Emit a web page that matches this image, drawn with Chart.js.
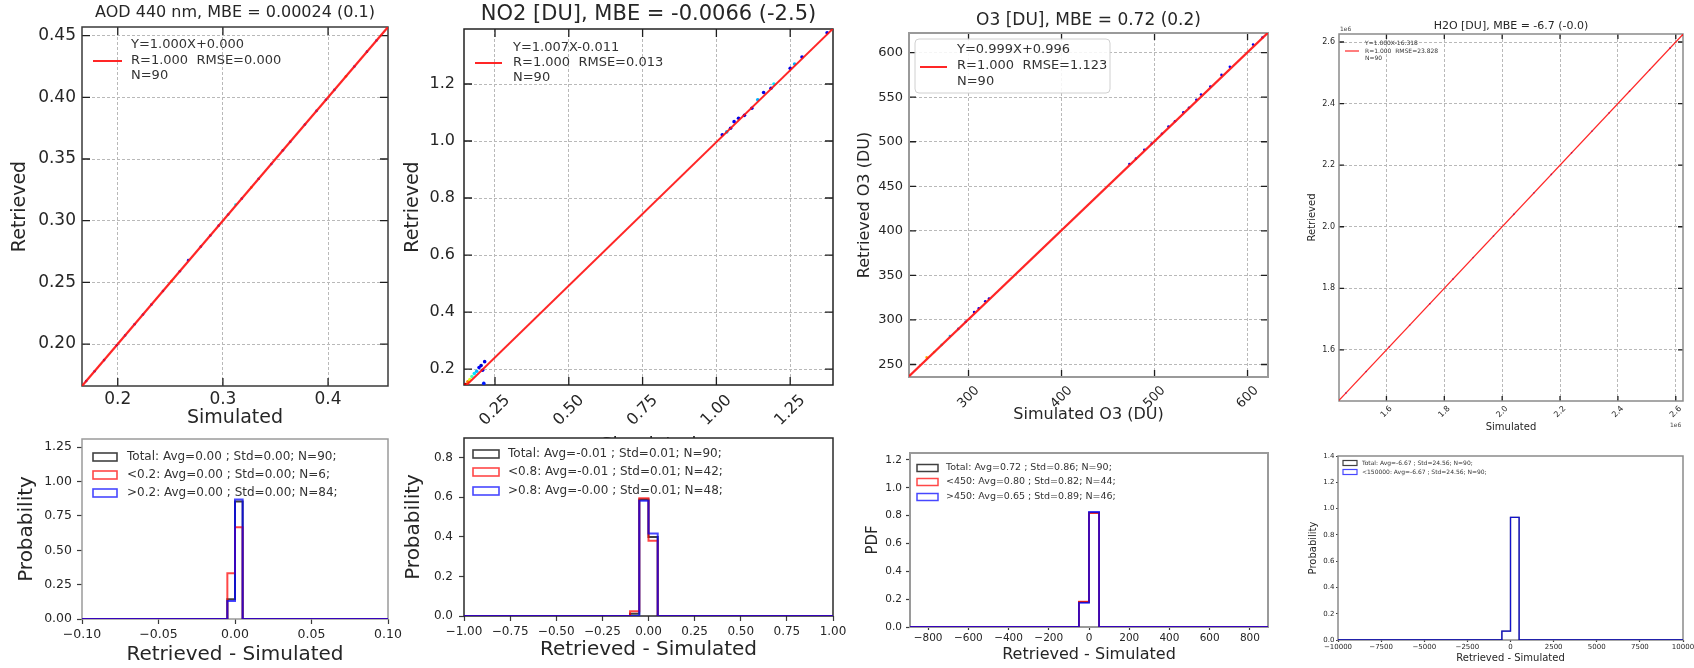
<!DOCTYPE html>
<html>
<head>
<meta charset="utf-8">
<title>Retrieved vs Simulated</title>
<script src="https://cdn.jsdelivr.net/npm/chart.js@4/dist/chart.umd.min.js"></script>
<style>
  html, body { margin: 0; padding: 0; background: #ffffff; }
  body { position: relative; width: 1694px; height: 668px; overflow: hidden; }
  canvas { position: absolute; }
</style>
</head>
<body>
<script>
/* ======================= DATA ======================= */
/* ---- AOD 440 nm ---- */
const aodTitle = 'AOD 440 nm, MBE = 0.00024 (0.1)';
const aodSim = [0.170,0.178,0.187,0.199,0.207,0.216,0.224,0.232,0.243,0.251,0.259,0.267,0.279,0.288,0.296,0.305,0.312,0.318,0.327,0.334,0.346,0.357,0.364,0.378,0.389,0.398,0.406,0.417,0.425,0.437,0.446];
const aodRet = [0.170,0.178,0.187,0.199,0.207,0.216,0.224,0.232,0.243,0.251,0.259,0.268,0.279,0.288,0.296,0.305,0.313,0.318,0.327,0.334,0.346,0.357,0.364,0.378,0.389,0.398,0.406,0.417,0.425,0.437,0.446];
const aodDensity = [0.1,0.15,0.1,0.1,0.2,0.1,0.15,0.1,0.1,0.7,0.1,0.15,0.1,0.1,0.1,0.2,0.35,0.1,0.72,0.1,0.15,0.1,0.1,0.1,0.15,0.1,0.2,0.75,0.1,0.1,0.15];
const aodFitX = [0.166, 0.457];
const aodFitY = [0.166, 0.457];
const aodFitLegend = ['Y=1.000X+0.000', 'R=1.000  RMSE=0.000', 'N=90'];
const aodTicksX = [0.2, 0.3, 0.4];
const aodTicksY = [0.20, 0.25, 0.30, 0.35, 0.40, 0.45];
const aodHistEdges = [-0.10, -0.005, 0.000, 0.005, 0.10];
const aodHistTotal = [0, 0.144, 0.856, 0];
const aodHistLow   = [0, 0.333, 0.667, 0];
const aodHistHigh  = [0, 0.131, 0.869, 0];
const aodHistLegend = ['Total: Avg=0.00 ; Std=0.00; N=90;', '<0.2: Avg=0.00 ; Std=0.00; N=6;', '>0.2: Avg=0.00 ; Std=0.00; N=84;'];
const aodHistTicksX = [-0.10, -0.05, 0.00, 0.05, 0.10];
const aodHistTicksY = [0.00, 0.25, 0.50, 0.75, 1.00, 1.25];

/* ---- NO2 ---- */
const no2Title = 'NO2 [DU], MBE = -0.0066 (-2.5)';
const no2Sim = [0.150,0.158,0.165,0.172,0.180,0.188,0.196,0.203,0.208,0.212,0.215,1.020,1.035,1.048,1.060,1.075,1.095,1.120,1.140,1.160,1.185,1.195,1.250,1.265,1.290,1.375];
const no2Ret = [0.146,0.155,0.163,0.174,0.184,0.192,0.205,0.212,0.196,0.150,0.226,1.022,1.032,1.045,1.068,1.080,1.090,1.115,1.145,1.170,1.185,1.200,1.255,1.270,1.295,1.380];
const no2Density = [0.95,0.75,0.6,0.45,0.35,0.3,0.12,0.08,0.1,0.15,0.1,0.1,0.3,0.1,0.12,0.1,0.1,0.1,0.3,0.1,0.1,0.35,0.1,0.3,0.1,0.1];
const no2FitX = [0.145, 1.395];
const no2FitY = [0.135, 1.394];
const no2FitLegend = ['Y=1.007X-0.011', 'R=1.000  RMSE=0.013', 'N=90'];
const no2TicksX = [0.25, 0.50, 0.75, 1.00, 1.25];
const no2TicksY = [0.2, 0.4, 0.6, 0.8, 1.0, 1.2];
const no2HistEdges = [-1.00, -0.10, -0.05, 0.00, 0.05, 1.00];
const no2HistTotal = [0, 0.011, 0.589, 0.400, 0];
const no2HistLow   = [0, 0.024, 0.595, 0.381, 0];
const no2HistHigh  = [0, 0.000, 0.583, 0.417, 0];
const no2HistLegend = ['Total: Avg=-0.01 ; Std=0.01; N=90;', '<0.8: Avg=-0.01 ; Std=0.01; N=42;', '>0.8: Avg=-0.00 ; Std=0.01; N=48;'];
const no2HistTicksX = [-1.00, -0.75, -0.50, -0.25, 0.00, 0.25, 0.50, 0.75, 1.00];
const no2HistTicksY = [0.0, 0.2, 0.4, 0.6, 0.8];

/* ---- O3 ---- */
const o3Title = 'O3 [DU], MBE = 0.72 (0.2)';
const o3Sim = [255,263,271,280,289,297,306,311,318,322,473,480,489,497,508,515,522,531,537,545,550,560,572,581,606,616];
const o3Ret = [258,264,272,282,290,298,309,313,321,324,475,481,491,498,509,517,523,533,538,547,553,562,575,584,609,617];
const o3Density = [0.7,0.55,0.4,0.3,0.2,0.15,0.1,0.12,0.1,0.1,0.1,0.12,0.1,0.15,0.1,0.1,0.12,0.1,0.1,0.1,0.12,0.1,0.1,0.12,0.1,0.1];
const o3FitX = [236, 622];
const o3FitY = [236.8, 622.4];
const o3FitLegend = ['Y=0.999X+0.996', 'R=1.000  RMSE=1.123', 'N=90'];
const o3TicksX = [300, 400, 500, 600];
const o3TicksY = [250, 300, 350, 400, 450, 500, 550, 600];
const o3HistEdges = [-900, -50, 0, 50, 900];
const o3HistTotal = [0, 0.178, 0.822, 0];
const o3HistLow   = [0, 0.182, 0.818, 0];
const o3HistHigh  = [0, 0.174, 0.826, 0];
const o3HistLegend = ['Total: Avg=0.72 ; Std=0.86; N=90;', '<450: Avg=0.80 ; Std=0.82; N=44;', '>450: Avg=0.65 ; Std=0.89; N=46;'];
const o3HistTicksX = [-800, -600, -400, -200, 0, 200, 400, 600, 800];
const o3HistTicksY = [0.0, 0.2, 0.4, 0.6, 0.8, 1.0, 1.2];

/* ---- H2O (values in units of 1e6) ---- */
const h2oTitle = 'H2O [DU], MBE = -6.7 (-0.0)';
const h2oSim = [1.46,1.53,1.61,1.68,1.75,1.83,1.90,1.97,2.04,2.11,2.17,2.24,2.31,2.37,2.44,2.51,2.58];
const h2oRet = [1.46,1.53,1.61,1.68,1.75,1.83,1.90,1.97,2.04,2.11,2.17,2.24,2.31,2.37,2.44,2.51,2.58];
const h2oDensity = [0.1,0.15,0.1,0.2,0.1,0.1,0.15,0.1,0.1,0.2,0.1,0.1,0.15,0.1,0.1,0.2,0.1];
const h2oFitX = [1.436, 2.625];
const h2oFitY = [1.436, 2.625];
const h2oFitLegend = ['Y=1.000X-16.318', 'R=1.000  RMSE=23.828', 'N=90'];
const h2oTicks = [1.6, 1.8, 2.0, 2.2, 2.4, 2.6];
const h2oOffsetText = '1e6';
const h2oHistEdges = [-10000, -500, 0, 500, 10000];
const h2oHistTotal = [0, 0.067, 0.933, 0];
const h2oHistLow   = [0, 0.067, 0.933, 0];
const h2oHistLegend = ['Total: Avg=-6.67 ; Std=24.56; N=90;', '<150000: Avg=-6.67 ; Std=24.56; N=90;'];
const h2oHistTicksX = [-10000, -7500, -5000, -2500, 0, 2500, 5000, 7500, 10000];
const h2oHistTicksY = [0.0, 0.2, 0.4, 0.6, 0.8, 1.0, 1.2, 1.4];

/* ======================= HELPERS ======================= */
const FAMILY = "'DejaVu Sans', 'Liberation Sans', sans-serif";
const TXT = '#262626';
const RED = 'rgba(255,0,0,0.72)';
const BLUE = 'rgba(0,0,255,0.72)';
const BLACK = 'rgba(0,0,0,0.75)';
const FITRED = 'rgba(255,20,20,0.92)';
const SPECS = new Map();

const fmt = (v, d) => (v < -1e-12 ? '\u2212' : '') + Math.abs(v).toFixed(d);
const pts = (xs, ys) => xs.map((x, i) => ({x: x, y: ys[i]}));
const stepPts = (edges, h) => {
  const p = h.map((y, i) => ({x: edges[i], y: y}));
  p.push({x: edges[edges.length - 1], y: 0});
  return p;
};
const jet = d => {
  const c = v => Math.round(255 * Math.max(0, Math.min(1, v)));
  return 'rgb(' + c(1.5 - Math.abs(4 * d - 3)) + ',' + c(1.5 - Math.abs(4 * d - 2)) + ',' + c(1.5 - Math.abs(4 * d - 1)) + ')';
};

function scatterSets(sim, ret, dens, fx, fy, st) {
  return [
    {type: 'line', data: pts(fx, fy), borderColor: FITRED, borderWidth: st.lw, pointRadius: 0, fill: false, order: 0},
    {type: 'scatter', data: pts(sim, ret), pointRadius: st.r, backgroundColor: dens.map(jet), pointBackgroundColor: dens.map(jet), borderWidth: 0, pointBorderWidth: 0, order: 1}
  ];
}
function histSets(edges, total, low, high, lw) {
  const sets = [];
  if (high) sets.push({type: 'line', data: stepPts(edges, high), borderColor: BLUE, borderWidth: lw, pointRadius: 0, stepped: true, fill: false, order: 0});
  if (low) sets.push({type: 'line', data: stepPts(edges, low), borderColor: RED, borderWidth: lw, pointRadius: 0, stepped: true, fill: false, order: 1});
  sets.push({type: 'line', data: stepPts(edges, total), borderColor: BLACK, borderWidth: lw, pointRadius: 0, stepped: true, fill: false, order: 2});
  return sets;
}

const mplPlugin = {
  id: 'mplStyle',
  beforeDraw(chart) {
    const s = SPECS.get(chart.canvas);
    if (!s || !s.bg) return;
    const a = chart.chartArea, ctx = chart.ctx;
    ctx.save();
    ctx.fillStyle = '#ffffff';
    ctx.fillRect(a.left, a.top, a.right - a.left, a.bottom - a.top);
    ctx.restore();
  },
  beforeDatasetsDraw(chart) {
    const s = SPECS.get(chart.canvas);
    if (!s) return;
    const a = chart.chartArea, ctx = chart.ctx;
    ctx.save();
    if (s.inTick) {
      const xs = chart.scales.x, ys = chart.scales.y;
      ctx.strokeStyle = '#1e1e1e';
      ctx.lineWidth = 1.3;
      ctx.beginPath();
      xs.ticks.forEach(t => {
        const p = xs.getPixelForValue(t.value);
        ctx.moveTo(p, a.bottom); ctx.lineTo(p, a.bottom - s.inTick);
        ctx.moveTo(p, a.top); ctx.lineTo(p, a.top + s.inTick);
      });
      ys.ticks.forEach(t => {
        const p = ys.getPixelForValue(t.value);
        ctx.moveTo(a.left, p); ctx.lineTo(a.left + s.inTick, p);
        ctx.moveTo(a.right, p); ctx.lineTo(a.right - s.inTick, p);
      });
      ctx.stroke();
    }
    ctx.strokeStyle = s.frame[0];
    ctx.lineWidth = s.frame[1];
    ctx.strokeRect(a.left, a.top, a.right - a.left, a.bottom - a.top);
    ctx.restore();
  },
  afterDraw(chart) {
    const s = SPECS.get(chart.canvas);
    if (!s) return;
    const ctx = chart.ctx, ox = s.box[0], oy = s.box[1];
    ctx.save();
    const lg = s.legend;
    if (lg) {
      if (lg.box) {
        const b = lg.box, x = b[0] - ox, y = b[1] - oy, w = b[2] - b[0], h = b[3] - b[1], r = 4;
        ctx.beginPath();
        ctx.moveTo(x + r, y); ctx.lineTo(x + w - r, y); ctx.quadraticCurveTo(x + w, y, x + w, y + r);
        ctx.lineTo(x + w, y + h - r); ctx.quadraticCurveTo(x + w, y + h, x + w - r, y + h);
        ctx.lineTo(x + r, y + h); ctx.quadraticCurveTo(x, y + h, x, y + h - r);
        ctx.lineTo(x, y + r); ctx.quadraticCurveTo(x, y, x + r, y);
        ctx.closePath();
        ctx.fillStyle = 'rgba(255,255,255,0.85)';
        ctx.fill();
        ctx.strokeStyle = '#d0d0d0';
        ctx.lineWidth = 1;
        ctx.stroke();
      }
      ctx.font = lg.size + 'px ' + FAMILY;
      ctx.fillStyle = '#333333';
      ctx.textBaseline = 'middle';
      ctx.textAlign = 'left';
      lg.texts.forEach((t, i) => ctx.fillText(t, lg.textX - ox, lg.rowsY[i] - oy));
      if (lg.line) {
        ctx.strokeStyle = lg.line.color;
        ctx.lineWidth = lg.line.width;
        ctx.beginPath();
        ctx.moveTo(lg.line.x1 - ox, lg.line.y - oy);
        ctx.lineTo(lg.line.x2 - ox, lg.line.y - oy);
        ctx.stroke();
      }
      if (lg.rects) {
        ctx.lineWidth = lg.rects.lw;
        lg.rects.colors.forEach((c, i) => {
          ctx.strokeStyle = c;
          ctx.strokeRect(lg.rects.x - ox, lg.rowsY[i] - oy - lg.rects.h / 2, lg.rects.w, lg.rects.h);
        });
      }
    }
    (s.notes || []).forEach(n => {
      ctx.font = n.size + 'px ' + FAMILY;
      ctx.fillStyle = '#444444';
      ctx.textBaseline = 'middle';
      ctx.textAlign = 'left';
      ctx.fillText(n.text, n.x - ox, n.y - oy);
    });
    ctx.restore();
  }
};
Chart.register(mplPlugin);

function panel(s) {
  const CL = s.box[0], CT = s.box[1], CR = s.box[2], CB = s.box[3];
  const L = s.plot[0], T = s.plot[1], R = s.plot[2], B = s.plot[3];
  const W = CR - CL, H = CB - CT;
  const cv = document.createElement('canvas');
  cv.width = W; cv.height = H;
  cv.style.left = CL + 'px'; cv.style.top = CT + 'px';
  cv.style.width = W + 'px'; cv.style.height = H + 'px';
  document.body.appendChild(cv);
  SPECS.set(cv, s);

  const scaleCfg = (a, horiz) => ({
    type: 'linear',
    position: horiz ? 'bottom' : 'left',
    min: a.min, max: a.max,
    afterBuildTicks: sc => { sc.ticks = a.ticks.map(v => ({value: v})); },
    afterFit: sc => {
      if (horiz) { sc.height = CB - B; sc.paddingLeft = 0; sc.paddingRight = 0; }
      else { sc.width = L - CL; sc.paddingTop = 0; sc.paddingBottom = 0; }
    },
    ticks: {
      autoSkip: false,
      font: {family: FAMILY, size: a.size},
      color: TXT,
      padding: a.pad,
      minRotation: a.rot || 0,
      maxRotation: a.rot || 0,
      labelOffset: a.lo || 0,
      callback: v => fmt(v, a.dec)
    },
    grid: {
      display: true,
      drawOnChartArea: !!s.grid,
      color: '#b9b9b9',
      lineWidth: 1,
      drawTicks: !!a.tl,
      tickLength: a.tl || 0,
      tickColor: '#3a3a3a',
      tickWidth: 1.2,
      borderDash: [3, 2]
    },
    border: {display: false, dash: [3, 2]},
    title: {
      display: true,
      text: a.title.text,
      color: TXT,
      font: {family: FAMILY, size: a.title.size},
      padding: horiz ? {top: 0, bottom: CB - a.title.c - a.title.size * 0.6}
                     : {top: a.title.c - CL - a.title.size * 0.6, bottom: 0}
    }
  });

  new Chart(cv, {
    type: 'scatter',
    data: {datasets: s.datasets},
    options: {
      responsive: false,
      animation: false,
      devicePixelRatio: 1,
      layout: {padding: {top: s.title ? 0 : T - CT, right: CR - R, left: 0, bottom: 0}},
      plugins: {
        legend: {display: false},
        tooltip: {enabled: false},
        title: s.title ? {
          display: true,
          text: s.title.text,
          color: TXT,
          fullSize: false,
          font: {family: FAMILY, size: s.title.size, weight: 'normal'},
          padding: {top: s.title.c - CT - s.title.size * 0.6, bottom: T - s.title.c - s.title.size * 0.6}
        } : {display: false}
      },
      scales: {x: scaleCfg(s.x, true), y: scaleCfg(s.y, false)}
    }
  });
}

/* ======================= PANELS ======================= */
// Top row: scatter plots
panel({
  box: [0, 0, 410, 440], plot: [82, 27, 388, 386], grid: true, inTick: 8, frame: ['#3a3a3a', 1.5],
  title: {text: aodTitle, size: 16, c: 13},
  x: {min: 0.166, max: 0.457, ticks: aodTicksX, dec: 1, size: 17, pad: 3, title: {text: 'Simulated', size: 19, c: 418}},
  y: {min: 0.166, max: 0.457, ticks: aodTicksY, dec: 2, size: 17, pad: 6, title: {text: 'Retrieved', size: 19, c: 20}},
  datasets: scatterSets(aodSim, aodRet, aodDensity, aodFitX, aodFitY, {lw: 2.2, r: 1.3}),
  legend: {size: 13, textX: 131, rowsY: [45, 61, 76], texts: aodFitLegend, line: {x1: 93, x2: 122, y: 61, color: FITRED, width: 2}}
});
panel({
  box: [400, 0, 850, 470], plot: [464, 29, 833, 385], grid: true, inTick: 8, frame: ['#222222', 1.5],
  title: {text: no2Title, size: 21, c: 15},
  x: {min: 0.145, max: 1.395, ticks: no2TicksX, dec: 2, size: 16, pad: 6, rot: 45, lo: 12.6, title: {text: 'Simulated', size: 19, c: 446}},
  y: {min: 0.144, max: 1.393, ticks: no2TicksY, dec: 1, size: 16, pad: 9, title: {text: 'Retrieved', size: 19, c: 413}},
  datasets: scatterSets(no2Sim, no2Ret, no2Density, no2FitX, no2FitY, {lw: 2, r: 1.8}),
  legend: {size: 13, textX: 513, rowsY: [48, 63, 78], texts: no2FitLegend, line: {x1: 475, x2: 502, y: 63, color: FITRED, width: 2}}
});
panel({
  box: [850, 0, 1285, 440], plot: [909, 33, 1268, 377], grid: true, inTick: 7, frame: ['#9a9a9a', 2],
  title: {text: o3Title, size: 17, c: 21},
  x: {min: 236, max: 622, ticks: o3TicksX, dec: 0, size: 13, pad: 6, rot: 45, lo: 8.8, title: {text: 'Simulated O3 (DU)', size: 16, c: 415}},
  y: {min: 236, max: 622, ticks: o3TicksY, dec: 0, size: 13, pad: 6, title: {text: 'Retrieved O3 (DU)', size: 16, c: 865}},
  datasets: scatterSets(o3Sim, o3Ret, o3Density, o3FitX, o3FitY, {lw: 2.2, r: 1.3}),
  legend: {size: 13, textX: 957, rowsY: [50, 66, 82], texts: o3FitLegend, line: {x1: 920, x2: 947, y: 67, color: FITRED, width: 2}, box: [915, 39, 1110, 93]}
});
panel({
  box: [1290, 0, 1694, 440], plot: [1339, 34, 1683, 401], grid: true, inTick: 5, frame: ['#8a8a8a', 1.5],
  title: {text: h2oTitle, size: 11, c: 26},
  x: {min: 1.436, max: 2.625, ticks: h2oTicks, dec: 1, size: 8, pad: 3, rot: 45, lo: 4.5, title: {text: 'Simulated', size: 10, c: 427}},
  y: {min: 1.434, max: 2.626, ticks: h2oTicks, dec: 1, size: 8, pad: 4, title: {text: 'Retrieved', size: 10, c: 1312}},
  datasets: scatterSets(h2oSim, h2oRet, h2oDensity, h2oFitX, h2oFitY, {lw: 1.3, r: 0.8}),
  legend: {size: 6, textX: 1365, rowsY: [43, 51, 58], texts: h2oFitLegend, line: {x1: 1345, x2: 1359, y: 51, color: FITRED, width: 1.2}},
  notes: [{text: h2oOffsetText, x: 1340, y: 29, size: 6}, {text: h2oOffsetText, x: 1670, y: 425, size: 6}]
});

// Bottom row: difference histograms
panel({
  box: [0, 425, 410, 668], plot: [82, 439, 388, 619], bg: true, frame: ['#9a9a9a', 1.5],
  x: {min: -0.1, max: 0.1, ticks: aodHistTicksX, dec: 2, size: 12.5, pad: 3.5, tl: 5, title: {text: 'Retrieved - Simulated', size: 20, c: 655}},
  y: {min: 0, max: 1.31, ticks: aodHistTicksY, dec: 2, size: 12.5, pad: 5, tl: 5, title: {text: 'Probability', size: 20, c: 27}},
  datasets: histSets(aodHistEdges, aodHistTotal, aodHistLow, aodHistHigh, 2),
  legend: {size: 12, textX: 127, rowsY: [457, 475, 493], texts: aodHistLegend, rects: {x: 93, w: 24, h: 8, lw: 1.6, colors: [BLACK, RED, BLUE]}}
});
panel({
  box: [400, 425, 850, 668], plot: [464, 438, 833, 616], bg: true, frame: ['#2a2a2a', 1.5],
  x: {min: -1, max: 1, ticks: no2HistTicksX, dec: 2, size: 12, pad: 4, tl: 5, title: {text: 'Retrieved - Simulated', size: 20, c: 650}},
  y: {min: 0, max: 0.9, ticks: no2HistTicksY, dec: 1, size: 12, pad: 6, tl: 5, title: {text: 'Probability', size: 20, c: 414}},
  datasets: histSets(no2HistEdges, no2HistTotal, no2HistLow, no2HistHigh, 2),
  legend: {size: 12, textX: 508, rowsY: [454, 472, 491], texts: no2HistLegend, rects: {x: 473, w: 26, h: 8, lw: 1.6, colors: [BLACK, RED, BLUE]}}
});
panel({
  box: [850, 440, 1285, 668], plot: [910, 453, 1268, 627], bg: true, frame: ['#9a9a9a', 2],
  x: {min: -890, max: 890, ticks: o3HistTicksX, dec: 0, size: 10.5, pad: 2, tl: 3, title: {text: 'Retrieved - Simulated', size: 16, c: 655}},
  y: {min: 0, max: 1.25, ticks: o3HistTicksY, dec: 1, size: 10.5, pad: 4, tl: 4, title: {text: 'PDF', size: 15, c: 873}},
  datasets: histSets(o3HistEdges, o3HistTotal, o3HistLow, o3HistHigh, 1.8),
  legend: {size: 9.5, textX: 946, rowsY: [468, 482, 497], texts: o3HistLegend, rects: {x: 917, w: 21, h: 7, lw: 1.5, colors: [BLACK, RED, BLUE]}}
});
panel({
  box: [1290, 445, 1694, 668], plot: [1338, 456, 1683, 640], bg: true, frame: ['#8a8a8a', 1.5],
  x: {min: -10000, max: 10000, ticks: h2oHistTicksX, dec: 0, size: 7, pad: 1, tl: 2, title: {text: 'Retrieved - Simulated', size: 10, c: 658}},
  y: {min: 0, max: 1.4, ticks: h2oHistTicksY, dec: 1, size: 7, pad: 1.5, tl: 2, title: {text: 'Probability', size: 10, c: 1313}},
  datasets: histSets(h2oHistEdges, h2oHistTotal, null, h2oHistLow, 1.3),
  legend: {size: 6, textX: 1362, rowsY: [463, 472], texts: h2oHistLegend, rects: {x: 1343, w: 14, h: 5, lw: 1.2, colors: [BLACK, BLUE]}}
});
</script>
</body>
</html>
